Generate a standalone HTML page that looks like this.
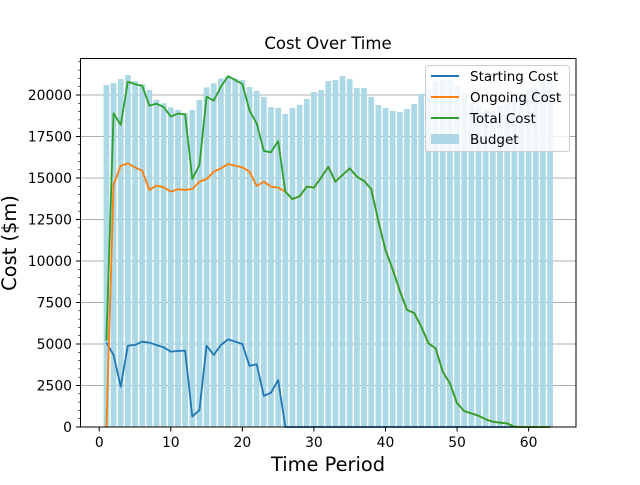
<!DOCTYPE html>
<html><head><meta charset="utf-8"><style>
body{margin:0;background:#fff;}
svg text{font-family:"DejaVu Sans","Liberation Sans",sans-serif;}
</style></head><body>
<svg id="c" width="640" height="480" xmlns="http://www.w3.org/2000/svg">
<rect width="640" height="480" fill="#fff"/>
<g id="grid"></g><g id="bars"></g><g id="lines"></g>
<rect x="80.5" y="58.5" width="495.5" height="368.5" fill="none" stroke="#000" stroke-width="1"/>
<g id="axes"></g>
<text x="328" y="49" font-size="16.5" text-anchor="middle">Cost Over Time</text>
<text x="328" y="471" font-size="19.4" text-anchor="middle">Time Period</text>
<text transform="translate(16,243) rotate(-90)" font-size="19.4" text-anchor="middle">Cost ($m)</text>
<g>
<rect x="425.5" y="65.5" width="144" height="86" rx="3" fill="#fff" fill-opacity="0.8" stroke="#ccc"/>
<g><line x1="431" y1="76" x2="459" y2="76" stroke="#1f77b4" stroke-width="2"/><text x="470" y="81" font-size="13.5">Starting Cost</text></g>
<g><line x1="431" y1="97" x2="459" y2="97" stroke="#ff7f0e" stroke-width="2"/><text x="470" y="102" font-size="13.5">Ongoing Cost</text></g>
<g><line x1="431" y1="118" x2="459" y2="118" stroke="#2ca02c" stroke-width="2"/><text x="470" y="123" font-size="13.5">Total Cost</text></g>
<g><rect x="431" y="134" width="28" height="10" fill="#add8e6"/><text x="470" y="144" font-size="13.5">Budget</text></g>
</g>
</svg>
<script>
const periods=[];for(let i=1;i<=63;i++)periods.push(i);
const budget=[20600,20720,20960,21200,20840,20650,20300,19700,19500,19260,19100,18900,19100,19700,20460,20700,21000,21100,21000,20900,20480,20240,19880,19270,19220,18860,19220,19400,19760,20180,20300,20840,20900,21140,20960,20420,20420,19880,19400,19220,19040,18980,19160,19460,20060,20300,20800,20860,20960,20540,20100,19500,19400,19160,19100,19400,19600,19900,20100,20300,20480,20800,20900];
const starting=[5080,4340,2430,4900,4940,5140,5080,4940,4800,4540,4580,4600,630,1020,4900,4340,4940,5280,5140,5000,3680,3780,1870,2070,2830,0,0,0,0,0,0,0,0,0,0,0,0,0,0,0,0,0,0,0,0,0,0,0,0,0,0,0,0,0,0,0,0,0,0,0,0,0,0];
const ongoing=[0,14580,15740,15880,15640,15440,14280,14540,14440,14180,14320,14280,14340,14780,14940,15380,15580,15840,15740,15640,15380,14520,14780,14480,14420,14170,13730,13900,14480,14420,15020,15680,14780,15180,15580,15080,14820,14340,12400,10660,9500,8200,7050,6870,6040,5040,4740,3330,2630,1430,960,820,680,460,320,260,220,20,0,0,0,0,0];
const total=[5200,18900,18200,20800,20650,20560,19360,19480,19270,18700,18880,18840,14940,15780,19900,19660,20500,21140,20900,20660,19060,18290,16630,16550,17230,14170,13730,13900,14480,14420,15020,15680,14780,15180,15580,15080,14820,14340,12400,10660,9500,8200,7050,6870,6040,5040,4740,3330,2630,1430,960,820,680,460,320,260,220,20,0,0,0,0,0];
const yTicks=[0,2500,5000,7500,10000,12500,15000,17500,20000];
const xTicks=[0,10,20,30,40,50,60];
const NS="http://www.w3.org/2000/svg";
const X=v=>80.5+(v+2.62)*(495.5/69.24);
const Y=v=>427-v*0.0166;
function mk(t,a,p){const e=document.createElementNS(NS,t);for(const k in a)e.setAttribute(k,a[k]);document.getElementById(p).appendChild(e);return e;}
yTicks.forEach(v=>{const g=mk('line',{x1:80.5,x2:576,y1:Y(v),y2:Y(v),stroke:'#b0b0b0','stroke-width':1},'grid');


mk('line',{x1:76,x2:80.5,y1:Y(v),y2:Y(v),stroke:'#000'},'axes');
const t=mk('text',{x:72,y:Y(v)+5,'font-size':13.9,'text-anchor':'end'},'axes');t.textContent=v;

});
for(let v=0;v<=22000;v+=500){if(v%2500)mk('line',{x1:78,x2:80.5,y1:Y(v),y2:Y(v),stroke:'#000','stroke-width':0.6},'axes');}
xTicks.forEach(v=>{mk('line',{x1:X(v),x2:X(v),y1:427,y2:431.5,stroke:'#000'},'axes');
const t=mk('text',{x:X(v),y:447,'font-size':13.9,'text-anchor':'middle'},'axes');t.textContent=v;

});
const bw=0.8*495.5/69.24;
periods.forEach((p,i)=>{const r=mk('rect',{x:X(p)-bw/2,y:Y(budget[i]),width:bw,height:Y(0)-Y(budget[i]),fill:'#add8e6'},'bars');

});
[[starting,'#1f77b4','starting-cost-line'],[ongoing,'#ff7f0e','ongoing-cost-line'],[total,'#2ca02c','total-cost-line']].forEach(([d,c,n])=>{
const l=mk('polyline',{points:d.map((v,i)=>X(periods[i])+','+Y(v)).join(' '),fill:'none',stroke:c,'stroke-width':1.8,'stroke-linejoin':'round'},'lines');

});
</script>
</body></html>
